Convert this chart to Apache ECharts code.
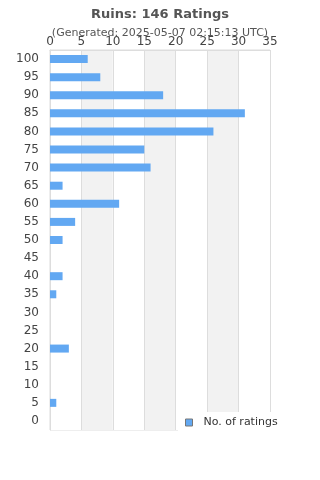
<!DOCTYPE html>
<html style="height: 100%">
<head>
    <meta charset="utf-8">
    <title>Ruins ratings</title>
    <script src="https://cdn.jsdelivr.net/npm/echarts@6/dist/echarts.min.js"></script>
</head>
<body style="height: 100%; margin: 0; background: #fff">
    <div id="main" style="width: 320px; height: 480px"></div>
    <script type="text/javascript">
        // rating buckets, bottom to top
        var scores = ['0','5','10','15','20','25','30','35','40','45','50','55','60','65','70','75','80','85','90','95','100'];
        var counts = [0, 1, 0, 0, 3, 0, 0, 1, 2, 0, 2, 4, 11, 2, 16, 15, 26, 31, 18, 8, 6];
        var xTicks = [0, 35, 5];   // min, max, step

        var myChart = echarts.init(document.getElementById('main'));
        var font = 'DejaVu Sans';

        var option = {
            animation: false,
            title: {
                text: 'Ruins: 146 Ratings',
                subtext: '(Generated: 2025-05-07 02:15:13 UTC)',
                left: 'center',
                top: 3,
                itemGap: 7,
                textStyle: { fontFamily: font, fontSize: 13, fontWeight: 'bold', color: '#555' },
                subtextStyle: { fontFamily: font, fontSize: 11, color: '#555' }
            },
            legend: {
                data: ['No. of ratings'],
                icon: 'rect',
                left: 178,
                top: 412,
                padding: [5, 8, 5, 7],
                backgroundColor: '#fff',
                itemWidth: 7,
                itemHeight: 7,
                itemStyle: { borderColor: '#777', borderWidth: 1 },
                textStyle: { fontFamily: font, fontSize: 11, color: '#333', padding: [0, 0, 0, 6] }
            },
            grid: {
                left: 50, right: 50, top: 50, bottom: 50,
                show: true, borderColor: '#ddd', borderWidth: 1
            },
            xAxis: {
                type: 'value',
                position: 'top',
                min: xTicks[0], max: xTicks[1], interval: xTicks[2],
                axisLine: { show: true, lineStyle: { color: '#ddd' } },
                axisTick: { show: false },
                axisLabel: { fontFamily: font, fontSize: 12, color: '#444', margin: 2 },
                splitLine: { lineStyle: { color: '#ddd' } },
                splitArea: { show: true, areaStyle: { color: ['#fff', '#f2f2f2'] } }
            },
            yAxis: {
                type: 'category',
                data: scores,
                axisLine: { lineStyle: { color: '#ddd' } },
                axisTick: { show: false },
                axisLabel: { fontFamily: font, fontSize: 12, color: '#444', margin: 11 }
            },
            series: [{
                name: 'No. of ratings',
                type: 'bar',
                data: counts,
                barWidth: 8,
                itemStyle: { color: '#62a8f2' }
            }]
        };
        myChart.setOption(option);
    </script>
</body>
</html>
